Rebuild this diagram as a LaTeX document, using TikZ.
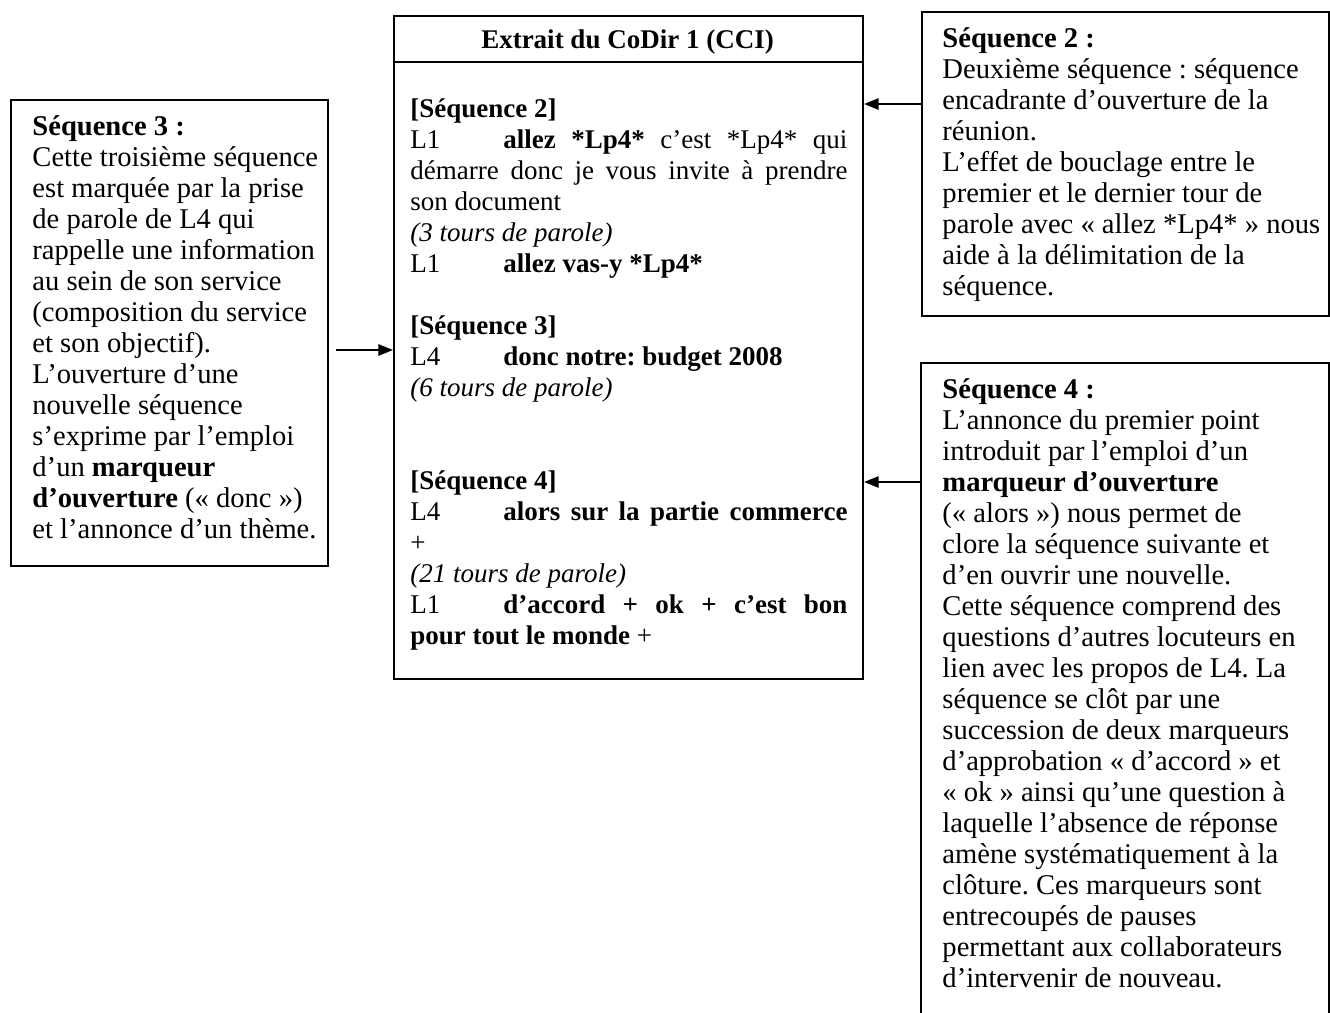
\documentclass[tikz,border=0pt]{standalone}
\usepackage{fontspec}
\setmainfont{Liberation Serif}
\usetikzlibrary{arrows.meta}
\newcommand\jl[1]{\makebox[194.2pt][s]{#1}}
\newcommand\spk[1]{\makebox[41.3pt][l]{#1}}
\newcommand\rsp{\frenchspacing\spaceskip=0pt\xspaceskip=0pt\relax}
\begin{document}
\begin{tikzpicture}[x=0.4444pt,y=-0.4444pt,
  frame/.style={draw,line width=0.9pt,inner sep=0pt,anchor=north west},
  ctext/.style={anchor=north west,inner sep=0pt,text width=194.2pt,align=left,font=\fontsize{12}{13.78}\selectfont},
  stext/.style={anchor=north west,inner sep=0pt,text width=200pt,align=left,font=\fontsize{12.7}{13.78}\selectfont},
  arr/.style={line width=0.9pt,-{Triangle[length=6.5pt,width=5pt]}}]
\useasboundingbox (0,0) rectangle (1330,1012);
\fill[white] (0,0) rectangle (1330,1012);

% boxes
\node[frame,minimum width={469*0.4444pt},minimum height={663*0.4444pt}] (cbox) at (393,15) {};
\node[frame,minimum width={317*0.4444pt},minimum height={466*0.4444pt}] (lbox) at (10,99) {};
\node[frame,minimum width={407*0.4444pt},minimum height={304*0.4444pt}] (rtbox) at (921,11) {};
\node[inner sep=0pt,anchor=north west,minimum width={407*0.4444pt},minimum height={649*0.4444pt}] (rbbox) at (921,363) {};
\draw[line width=0.9pt] (rbbox.south west) -- (rbbox.north west) -- (rbbox.north east) -- (rbbox.south east);

% title
\draw[line width=0.9pt] (cbox.west |- 0,62) -- (cbox.east |- 0,62);
\node[anchor=base,inner sep=0pt,font=\bfseries\fontsize{12}{13.78}\selectfont] (title) at (627.5,48) {Extrait du CoDir 1 (CCI)};

% centre text
\node[ctext] (ctxt) at (410,94.5) {\rsp\rule{0pt}{10pt}\textbf{[Séquence 2]}\\
\jl{\spk{L1}\textbf{allez *Lp4*} c’est *Lp4* qui}\\
\jl{démarre donc je vous invite à prendre}\\
son document\\
\textit{(3 tours de parole)}\\
\spk{L1}\textbf{allez vas-y *Lp4*}\\
\mbox{}\\
\textbf{[Séquence 3]}\\
\spk{L4}\textbf{donc notre: budget 2008}\\
\textit{(6 tours de parole)}\\
\mbox{}\\
\mbox{}\\
\textbf{[Séquence 4]}\\
\jl{\spk{L4}\textbf{alors sur la partie commerce}}\\
+\\
\textit{(21 tours de parole)}\\
\jl{\spk{L1}\textbf{d’accord + ok + c’est bon}}\\
\textbf{pour tout le monde} +};

% left text
\node[stext] (ltxt) at (32,112.5) {\rsp\rule{0pt}{10pt}\textbf{Séquence 3 :}\\
Cette troisième séquence\\
est marquée par la prise\\
de parole de L4 qui\\
rappelle une information\\
au sein de son service\\
(composition du service\\
et son objectif).\\
L’ouverture d’une\\
nouvelle séquence\\
s’exprime par l’emploi\\
d’un \textbf{marqueur}\\
\textbf{d’ouverture} («~donc~»)\\
et l’annonce d’un thème.};

% right top text
\node[stext] (rttxt) at (942,24.5) {\rsp\rule{0pt}{10pt}\textbf{Séquence 2 :}\\
Deuxième séquence : séquence\\
encadrante d’ouverture de la\\
réunion.\\
L’effet de bouclage entre le\\
premier et le dernier tour de\\
parole avec «~allez *Lp4*~» nous\\
aide à la délimitation de la\\
séquence.};

% right bottom text
\node[stext] (rbtxt) at (942,375.5) {\rsp\rule{0pt}{10pt}\textbf{Séquence 4 :}\\
L’annonce du premier point\\
introduit par l’emploi d’un\\
\textbf{marqueur d’ouverture}\\
(«~alors~») nous permet de\\
clore la séquence suivante et\\
d’en ouvrir une nouvelle.\\
Cette séquence comprend des\\
questions d’autres locuteurs en\\
lien avec les propos de L4. La\\
séquence se clôt par une\\
succession de deux marqueurs\\
d’approbation «~d’accord~» et\\
«~ok~» ainsi qu’une question à\\
laquelle l’absence de réponse\\
amène systématiquement à la\\
clôture. Ces marqueurs sont\\
entrecoupés de pauses\\
permettant aux collaborateurs\\
d’intervenir de nouveau.};

% connectors
\draw[arr,shorten <=3pt] (lbox.east |- 0,350) -- (cbox.west |- 0,350);
\draw[arr] (rtbox.west |- 0,104) -- (cbox.east |- 0,104);
\draw[arr] (rbbox.west |- 0,482) -- (cbox.east |- 0,482);
\end{tikzpicture}
\end{document}
